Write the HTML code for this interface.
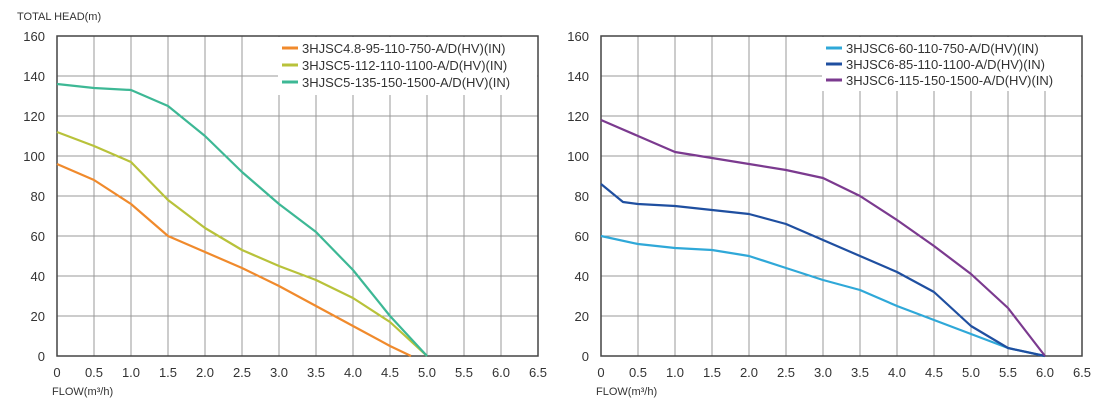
<!DOCTYPE html><html><head><style>body{margin:0;background:#fff}svg{display:block}text{font-family:"Liberation Sans",sans-serif;fill:#333}</style></head><body>
<svg width="1113" height="411" viewBox="0 0 1113 411" xmlns="http://www.w3.org/2000/svg">
<g id="L">
<text x="17" y="20" font-size="11">TOTAL HEAD(m)</text>
<g stroke="#999" stroke-width="1">
<path d="M94 36V356M131 36V356M168 36V356M205 36V356M242 36V356M279 36V356M316 36V356M353 36V356M390 36V356M427 36V356M464 36V356M501 36V356M57 76H538M57 116H538M57 156H538M57 196H538M57 236H538M57 276H538M57 316H538"/></g>
<rect x="278" y="37" width="259" height="58" fill="#fff"/>
<rect x="57" y="36" width="481" height="320" fill="none" stroke="#444" stroke-width="1.5"/>
<g font-size="13" text-anchor="end"><text x="45" y="41">160</text><text x="45" y="81">140</text><text x="45" y="121">120</text><text x="45" y="161">100</text><text x="45" y="201">80</text><text x="45" y="241">60</text><text x="45" y="281">40</text><text x="45" y="321">20</text><text x="45" y="361">0</text></g>
<g font-size="13" text-anchor="middle"><text x="57" y="377">0</text><text x="94" y="377">0.5</text><text x="131" y="377">1.0</text><text x="168" y="377">1.5</text><text x="205" y="377">2.0</text><text x="242" y="377">2.5</text><text x="279" y="377">3.0</text><text x="316" y="377">3.5</text><text x="353" y="377">4.0</text><text x="390" y="377">4.5</text><text x="427" y="377">5.0</text><text x="464" y="377">5.5</text><text x="501" y="377">6.0</text><text x="538" y="377">6.5</text></g>
<text x="52" y="395" font-size="11">FLOW(m³/h)</text>
<g fill="none" stroke-width="2.2" stroke-linejoin="round">
<polyline stroke="#f08a2c" points="57,164 94,180 131,204 168,236 205,252 242,268 279,286 316,306 353,326 390,346 411,356"/>
<polyline stroke="#b8c23a" points="57,132 94,146 131,162 168,200 205,228 242,250 279,266 316,280 353,298 390,322 427,356"/>
<polyline stroke="#3db895" points="57,84 94,88 131,90 168,106 205,136 242,172 279,204 316,232 353,270 390,316 427,356"/>
</g>
<g font-size="13"><line x1="282" y1="48" x2="298" y2="48" stroke="#f08a2c" stroke-width="3"/><text x="302" y="53">3HJSC4.8-95-110-750-A/D(HV)(IN)</text>
<line x1="282" y1="65" x2="298" y2="65" stroke="#b8c23a" stroke-width="3"/><text x="302" y="70">3HJSC5-112-110-1100-A/D(HV)(IN)</text>
<line x1="282" y1="82" x2="298" y2="82" stroke="#3db895" stroke-width="3"/><text x="302" y="87">3HJSC5-135-150-1500-A/D(HV)(IN)</text></g>
</g>
<g transform="translate(544,0)">
<g stroke="#999" stroke-width="1">
<path d="M94 36V356M131 36V356M168 36V356M205 36V356M242 36V356M279 36V356M316 36V356M353 36V356M390 36V356M427 36V356M464 36V356M501 36V356M57 76H538M57 116H538M57 156H538M57 196H538M57 236H538M57 276H538M57 316H538"/></g>
<rect x="278" y="37" width="259" height="54" fill="#fff"/>
<rect x="57" y="36" width="481" height="320" fill="none" stroke="#444" stroke-width="1.5"/>
<g font-size="13" text-anchor="end"><text x="45" y="41">160</text><text x="45" y="81">140</text><text x="45" y="121">120</text><text x="45" y="161">100</text><text x="45" y="201">80</text><text x="45" y="241">60</text><text x="45" y="281">40</text><text x="45" y="321">20</text><text x="45" y="361">0</text></g>
<g font-size="13" text-anchor="middle"><text x="57" y="377">0</text><text x="94" y="377">0.5</text><text x="131" y="377">1.0</text><text x="168" y="377">1.5</text><text x="205" y="377">2.0</text><text x="242" y="377">2.5</text><text x="279" y="377">3.0</text><text x="316" y="377">3.5</text><text x="353" y="377">4.0</text><text x="390" y="377">4.5</text><text x="427" y="377">5.0</text><text x="464" y="377">5.5</text><text x="501" y="377">6.0</text><text x="538" y="377">6.5</text></g>
<text x="52" y="395" font-size="11">FLOW(m³/h)</text>
<g fill="none" stroke-width="2.2" stroke-linejoin="round">
<polyline stroke="#2fa8d8" points="57,236 94,244 131,248 168,250 205,256 242,268 279,280 316,290 353,306 390,320 427,334 464,348 501,356"/>
<polyline stroke="#1f4fa0" points="57,184 79,202 94,204 131,206 168,210 205,214 242,224 279,240 316,256 353,272 390,292 427,326 464,348 501,356"/>
<polyline stroke="#7b3a8f" points="57,120 94,136 131,152 168,158 205,164 242,170 279,178 316,196 353,220 390,246 427,274 464,308 501,356"/>
</g>
<g font-size="13"><line x1="282" y1="48" x2="298" y2="48" stroke="#2fa8d8" stroke-width="3"/><text x="302" y="53">3HJSC6-60-110-750-A/D(HV)(IN)</text>
<line x1="282" y1="64" x2="298" y2="64" stroke="#1f4fa0" stroke-width="3"/><text x="302" y="69">3HJSC6-85-110-1100-A/D(HV)(IN)</text>
<line x1="282" y1="80" x2="298" y2="80" stroke="#7b3a8f" stroke-width="3"/><text x="302" y="85">3HJSC6-115-150-1500-A/D(HV)(IN)</text></g>
</g>
</svg></body></html>
